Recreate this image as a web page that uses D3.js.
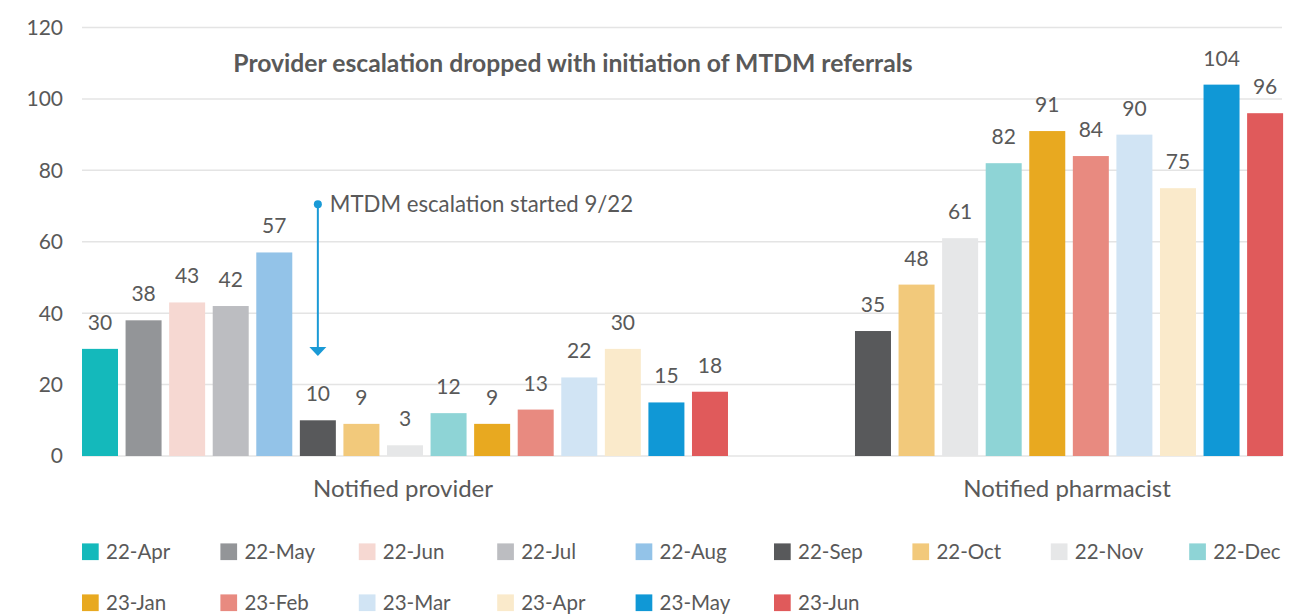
<!DOCTYPE html>
<html>
<head>
<meta charset="utf-8">
<script src="https://cdn.jsdelivr.net/npm/d3@7"></script>
<style>
  body { margin: 0; background: #fff; }
  svg { font-family: Lato, "Open Sans", sans-serif; }
</style>
</head>
<body>
<div id="chart"></div>
<script>
'use strict';

var months = ['22-Apr', '22-May', '22-Jun', '22-Jul', '22-Aug', '22-Sep', '22-Oct', '22-Nov',
  '22-Dec', '23-Jan', '23-Feb', '23-Mar', '23-Apr', '23-May', '23-Jun'];
var colors = ['#14b9bb', '#939598', '#f6d8d2', '#bcbdc1', '#93c3e8', '#58595b', '#f2c97b', '#e6e7e8',
  '#8ed4d6', '#e8a920', '#e88a80', '#d1e4f4', '#faeacb', '#1098d6', '#e05a5b'];
var categories = ['Notified provider', 'Notified pharmacist'];
var providerValues = [30, 38, 43, 42, 57, 10, 9, 3, 12, 9, 13, 22, 30, 15, 18];
var pharmacistValues = [null, null, null, null, null, 35, 48, 61, 82, 91, 84, 90, 75, 104, 96];
var yTicks = [0, 20, 40, 60, 80, 100, 120];
var title = 'Provider escalation dropped with initiation of MTDM referrals';
var annotation = { text: 'MTDM escalation started 9/22', month: '22-Sep', from: 70.5, to: 28 };

var width = 1306, height = 615;
var plotLeft = 82, plotRight = 1282, plotTop = 27.5, plotBottom = 456;
var step = 43.57, barW = 36, groupGap = 127;
var textColor = '#595959';

var svg = d3.select('#chart').append('svg')
  .attr('width', width)
  .attr('height', height);

var y = d3.scaleLinear().domain([0, 120]).range([plotBottom, plotTop]);

// gridlines + y labels
svg.append('g').selectAll('line').data(yTicks).enter().append('line')
  .attr('x1', plotLeft).attr('x2', plotRight)
  .attr('y1', function(d) { return y(d); })
  .attr('y2', function(d) { return y(d); })
  .attr('stroke', '#e4e4e4')
  .attr('stroke-width', 1.5);

svg.append('g').selectAll('text').data(yTicks).enter().append('text')
  .attr('x', 63)
  .attr('y', function(d) { return y(d); })
  .attr('dy', '0.35em')
  .attr('text-anchor', 'end')
  .attr('fill', textColor)
  .style('font-size', '21px')
  .text(function(d) { return d; });

// groups: each has its own band scale over the months that have a value
var series = [providerValues, pharmacistValues];
var x0 = plotLeft;
var groups = series.map(function(vals, gi) {
  var items = months.map(function(m, i) {
    return { month: m, value: vals[i], color: colors[i] };
  }).filter(function(d) { return d.value !== null; });
  var w = items.length * step - (step - barW);
  var xs = d3.scaleBand()
    .domain(items.map(function(d) { return d.month; }))
    .range([x0, x0 + w])
    .paddingInner(1 - barW / step)
    .paddingOuter(0);
  var g = { name: categories[gi], items: items, x: xs, start: x0, end: x0 + w };
  x0 = x0 + w + groupGap;
  return g;
});

groups.forEach(function(g) {
  var gg = svg.append('g');
  gg.selectAll('rect').data(g.items).enter().append('rect')
    .attr('x', function(d) { return g.x(d.month); })
    .attr('y', function(d) { return y(d.value); })
    .attr('width', g.x.bandwidth())
    .attr('height', function(d) { return y(0) - y(d.value); })
    .attr('fill', function(d) { return d.color; });

  gg.selectAll('text.val').data(g.items).enter().append('text')
    .attr('class', 'val')
    .attr('x', function(d) { return g.x(d.month) + g.x.bandwidth() / 2; })
    .attr('y', function(d) { return y(d.value) - 19; })
    .attr('text-anchor', 'middle')
    .attr('fill', textColor)
    .style('font-size', '21px')
    .text(function(d) { return d.value; });

  gg.append('text')
    .attr('x', (g.start + g.end) / 2 - 2)
    .attr('y', 497)
    .attr('text-anchor', 'middle')
    .attr('fill', textColor)
    .style('font-size', '24px')
    .text(g.name);
});

// title
svg.append('text')
  .attr('x', 573)
  .attr('y', 71.5)
  .attr('text-anchor', 'middle')
  .attr('fill', textColor)
  .style('font-size', '24.7px')
  .style('font-weight', 'bold')
  .text(title);

// annotation arrow
var ax = groups[0].x(annotation.month) + groups[0].x.bandwidth() / 2;
var blue = '#1a9ad6';
var ya = y(annotation.from), yb = y(annotation.to);
svg.append('line')
  .attr('x1', ax).attr('x2', ax)
  .attr('y1', ya).attr('y2', yb - 8)
  .attr('stroke', blue)
  .attr('stroke-width', 2);
svg.append('circle')
  .attr('cx', ax).attr('cy', ya).attr('r', 4)
  .attr('fill', blue);
svg.append('path')
  .attr('d', 'M' + (ax - 8.5) + ',' + (yb - 9) + 'L' + (ax + 8.5) + ',' + (yb - 9) + 'L' + ax + ',' + yb + 'Z')
  .attr('fill', blue);
svg.append('text')
  .attr('x', ax + 12)
  .attr('y', ya)
  .attr('dy', '0.35em')
  .attr('fill', textColor)
  .style('font-size', '22.2px')
  .text(annotation.text);

// legend
var legend = svg.append('g');
var perRow = 9, colW = 138.4, rowH = 51;
var items = legend.selectAll('g').data(months).enter().append('g')
  .attr('transform', function(d, i) {
    return 'translate(' + (82 + (i % perRow) * colW) + ',' + (551.7 + Math.floor(i / perRow) * rowH) + ')';
  });
items.append('rect')
  .attr('x', 0).attr('y', -8.3)
  .attr('width', 16.7).attr('height', 16.7)
  .attr('fill', function(d, i) { return colors[i]; });
items.append('text')
  .attr('x', 24)
  .attr('y', 0)
  .attr('dy', '0.35em')
  .attr('fill', textColor)
  .style('font-size', '20.5px')
  .text(function(d) { return d; });
</script>
</body>
</html>
